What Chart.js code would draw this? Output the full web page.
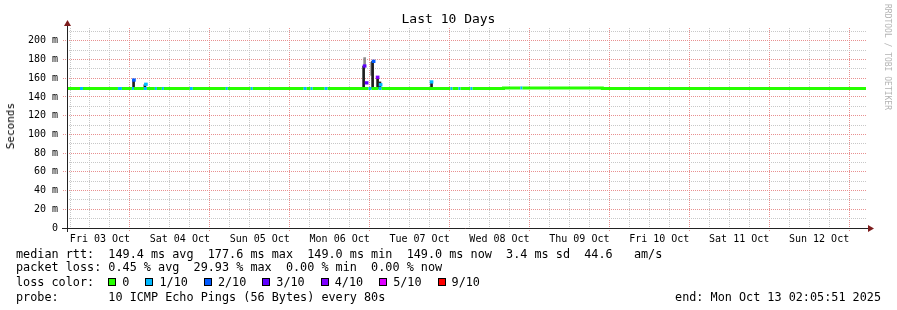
<!DOCTYPE html>
<html>
<head>
<meta charset="utf-8">
<title>Last 10 Days</title>
<script src="https://cdn.jsdelivr.net/npm/chart.js@4.4.1/dist/chart.umd.min.js"></script>
<style>
  html, body { margin: 0; padding: 0; background: #fff; }
  #wrap { position: relative; width: 897px; height: 310px; overflow: hidden;
          font-family: 'DejaVu Sans Mono', monospace; color: #000; }
  #wrap canvas { position: absolute; left: 0; top: 0; }
  .txt { position: absolute; white-space: pre; }
  #title { left: 0; width: 897px; top: 11px; text-align: center; font-size: 13px; line-height: 16px; }
  #ylab { left: 5px; top: 103px; font-size: 11px; line-height: 12px; color: #000;
          writing-mode: vertical-rl; transform: rotate(180deg); }
  #mark { left: 883px; top: 4px; font-size: 8px; line-height: 9px; color: #b4b4b4; writing-mode: vertical-rl; }
  .leg { left: 16px; font-size: 11.8px; line-height: 14px; height: 14px; }
  #lossRow { display: flex; align-items: center; }
  .sw { display: inline-block; width: 6px; height: 6px; border: 1px solid #000; margin-right: 6px; }
  .swl { margin-right: 16px; }
  #endTxt { right: 16px; left: auto; }
</style>
</head>
<body>
<div id="wrap">
  <canvas id="chartPing" width="897" height="310"></canvas>
  <div class="txt" id="title">Last 10 Days</div>
  <div class="txt" id="ylab">Seconds</div>
  <div class="txt" id="mark">RRDTOOL / TOBI OETIKER</div>
  <div class="txt leg" id="rttRow" style="top:247px"></div>
  <div class="txt leg" id="lossStatRow" style="top:260px"></div>
  <div class="txt leg" id="lossRow" style="top:275px"></div>
  <div class="txt leg" id="probeRow" style="top:290px"></div>
  <div class="txt leg" id="endTxt" style="top:290px"></div>
</div>
<script>
'use strict';

// x axis is hours since the window start; window ends Mon Oct 13 02:05:51 and spans 10 days
const SPAN_HOURS  = 240;
const START_CLOCK = 2 + 5 / 60 + 51 / 3600;   // time of day at the left edge (Fri 03 Oct)

const dayLabels = ['Fri 03 Oct', 'Sat 04 Oct', 'Sun 05 Oct', 'Mon 06 Oct', 'Tue 07 Oct',
                   'Wed 08 Oct', 'Thu 09 Oct', 'Fri 10 Oct', 'Sat 11 Oct', 'Sun 12 Oct'];
const yTickValues = [0, 10, 20, 30, 40, 50, 60, 70, 80, 90, 100,
                     110, 120, 130, 140, 150, 160, 170, 180, 190, 200, 210];

// median rtt (ms) change points and lost pings (of 10) from each point on
const lineHours = [0, 3.9, 4.8, 15.3, 16.5, 19.5, 20.1, 23.1, 24.0, 26.4, 27.0, 28.5, 29.1,
                   36.9, 37.8, 47.7, 48.3, 55.2, 55.8, 71.1, 72.0, 73.2, 73.8, 77.4, 78.3,
                   90.6, 91.5, 93.6, 94.5, 115.2, 115.8, 117.6, 118.2, 121.2, 121.8,
                   131.1, 136.2, 136.8, 160.8, 240];
const lineMs    = [149, 149, 149, 149, 149, 149, 149, 149, 149, 149, 149, 149, 149,
                   149, 149, 149, 149, 149, 149, 149, 149, 149, 149, 149, 149,
                   149, 149, 149, 149, 149, 149, 149, 149, 149, 149,
                   149.6, 149.6, 149.6, 149, 149];
const lineLoss  = [0, 1, 0, 1, 0, 1, 0, 1, 0, 1, 0, 1, 0,
                   1, 0, 1, 0, 1, 0, 1, 0, 1, 0, 1, 0,
                   1, 0, 1, 0, 1, 0, 1, 0, 1, 0,
                   0, 1, 0, 0, 0];

// smoke (spread of the single pings) where the rtt jumped
const smokeHours = [20.0, 23.4, 89.1, 91.8, 93.3, 94.0, 109.5];
const smokeLow   = [149, 149, 149, 149, 149, 149, 149];
const smokeHigh  = [158, 153, 173, 178, 161, 156, 156];
const outerHours = [89.4, 91.5];
const outerLow   = [173, 163];
const outerHigh  = [182, 177];

// median of those jumps
const spikeHours = [20.1, 23.7, 89.4, 90.0, 92.1, 93.3, 94.2, 109.5];
const spikeMs    = [158, 153.5, 173, 155, 178, 161, 153, 156];
const spikeLoss  = [2, 1, 3, 3, 2, 4, 1, 1];

const lossKeys   = [0, 1, 2, 3, 4, 5, 9];
const lossLabels = ['0', '1/10', '2/10', '3/10', '4/10', '5/10', '9/10'];
const LOSS_COLORS = { 0: '#26ff00', 1: '#00b8ff', 2: '#0059ff', 3: '#5e00ff',
                      4: '#7e00ff', 5: '#dd00ff', 9: '#ff0000' };

const rttText   = 'median rtt:  149.4 ms avg  177.6 ms max  149.0 ms min  149.0 ms now  3.4 ms sd  44.6   am/s';
const lossText  = 'packet loss: 0.45 % avg  29.93 % max  0.00 % min  0.00 % now';
const probeText = 'probe:       10 ICMP Echo Pings (56 Bytes) every 80s';
const endText   = 'end: Mon Oct 13 02:05:51 2025';

const GRID_MINOR = '#c8c8c8';
const GRID_MAJOR = '#e89090';
const NONE = 'rgba(0,0,0,0)';
const ARROW = '#7d1d1d';
const FONT = "'DejaVu Sans Mono', monospace";

// tick hours: every 6 h on the local clock
const xTickHours = [];
for (let t = 6 - START_CLOCK; t <= SPAN_HOURS; t += 6) xTickHours.push(t);

function isMidnight(v) { return Math.round((v + START_CLOCK) / 6) % 4 === 0; }
function isNoon(v)     { return Math.round((v + START_CLOCK) / 6) % 4 === 2; }
function isMajorMs(v)  { return Math.round(v) % 20 === 0; }

// legend texts
document.getElementById('rttRow').textContent = rttText;
document.getElementById('lossStatRow').textContent = lossText;
document.getElementById('probeRow').textContent = probeText;
document.getElementById('endTxt').textContent = endText;
(function buildLossRow() {
  const row = document.getElementById('lossRow');
  const head = document.createElement('span');
  head.textContent = 'loss color:  ';
  row.appendChild(head);
  lossKeys.forEach((k, i) => {
    const sw = document.createElement('span');
    sw.className = 'sw';
    sw.style.background = LOSS_COLORS[k];
    const lb = document.createElement('span');
    lb.className = 'swl';
    lb.textContent = lossLabels[i];
    row.appendChild(sw);
    row.appendChild(lb);
  });
})();

// axis lines with the rrdtool arrows
const rrdAxes = {
  id: 'rrdAxes',
  afterDraw(chart) {
    const { ctx, chartArea: a } = chart;
    const yb = Math.round(a.bottom) + 0.5;
    const xl = Math.round(a.left) + 0.5;
    ctx.save();
    ctx.strokeStyle = '#222';
    ctx.lineWidth = 1;
    ctx.beginPath();
    ctx.moveTo(a.left - 5, yb);
    ctx.lineTo(a.right + 3, yb);
    ctx.moveTo(xl, a.bottom + 4);
    ctx.lineTo(xl, a.top - 2);
    ctx.stroke();
    ctx.fillStyle = ARROW;
    ctx.beginPath();
    ctx.moveTo(a.right + 2, yb - 3.5);
    ctx.lineTo(a.right + 8, yb);
    ctx.lineTo(a.right + 2, yb + 3.5);
    ctx.closePath();
    ctx.fill();
    ctx.beginPath();
    ctx.moveTo(xl - 3.5, a.top - 2);
    ctx.lineTo(xl, a.top - 8);
    ctx.lineTo(xl + 3.5, a.top - 2);
    ctx.closePath();
    ctx.fill();
    ctx.restore();
  }
};

const xGridColors = xTickHours.map(h => isMidnight(h) ? GRID_MAJOR : GRID_MINOR);
const xTickColors = xTickHours.map(h => isMidnight(h) ? GRID_MAJOR : NONE);
const yGridColors = yTickValues.map(v => isMajorMs(v) ? GRID_MAJOR : GRID_MINOR);
const yTickColors = yTickValues.map(v => isMajorMs(v) ? GRID_MAJOR : NONE);

const ctx = document.getElementById('chartPing');
new Chart(ctx, {
  type: 'bar',
  data: {
    datasets: [
      {
        type: 'bar',
        label: 'smoke outer',
        data: outerHours.map((h, i) => ({ x: h, y: [outerLow[i], outerHigh[i]] })),
        backgroundColor: '#8c8c8c',
        barThickness: 2,
        grouped: false,
        order: 4,
      },
      {
        type: 'bar',
        label: 'smoke',
        data: smokeHours.map((h, i) => ({ x: h, y: [smokeLow[i], smokeHigh[i]] })),
        backgroundColor: '#1e1e1e',
        barThickness: 2,
        grouped: false,
        order: 3,
      },
      {
        type: 'line',
        label: 'median rtt',
        data: lineHours.map((h, i) => ({ x: h, y: lineMs[i] })),
        borderColor: LOSS_COLORS[0],
        borderWidth: 3,
        borderCapStyle: 'butt',
        stepped: true,
        pointRadius: 0,
        segment: { borderColor: c => LOSS_COLORS[lineLoss[c.p0DataIndex]] },
        order: 2,
      },
      {
        type: 'bar',
        label: 'median spikes',
        data: spikeHours.map((h, i) => ({ x: h, y: [spikeMs[i] - 1.4, spikeMs[i] + 1.4] })),
        backgroundColor: spikeLoss.map(l => LOSS_COLORS[l]),
        barThickness: 3,
        grouped: false,
        order: 1,
      },
    ]
  },
  options: {
    responsive: false,
    devicePixelRatio: 1,
    animation: false,
    layout: { padding: { left: 0, right: 31, top: 28, bottom: 62 } },
    plugins: { legend: { display: false }, tooltip: { enabled: false }, title: { display: false } },
    scales: {
      x: {
        type: 'linear',
        min: 0,
        max: SPAN_HOURS,
        offset: false,
        afterFit: s => { s.height = 20; },
        afterBuildTicks: s => { s.ticks = xTickHours.map(h => ({ value: h })); },
        border: { display: false, dash: [1, 1] },
        grid: {
          color: xGridColors,
          tickColor: xTickColors,
          tickLength: 4,
          tickBorderDash: [1, 1],
        },
        ticks: {
          autoSkip: false,
          maxRotation: 0,
          padding: 1,
          color: '#000',
          font: { family: FONT, size: 10 },
          callback: v => isNoon(v) ? dayLabels[Math.floor((v + START_CLOCK) / 24)] : '',
        },
      },
      y: {
        type: 'linear',
        min: 0,
        max: 213.6,
        afterFit: s => { s.width = 67; },
        afterBuildTicks: s => { s.ticks = yTickValues.map(v => ({ value: v })); },
        border: { display: false, dash: [1, 1] },
        grid: {
          color: yGridColors,
          tickColor: yTickColors,
          tickLength: 4,
          tickBorderDash: [1, 1],
        },
        ticks: {
          autoSkip: false,
          padding: 5,
          color: '#000',
          font: { family: FONT, size: 10 },
          callback: v => v === 0 ? '0' : (v % 20 === 0 ? v + ' m' : ''),
        },
      },
    },
  },
  plugins: [rrdAxes],
});
</script>
</body>
</html>
